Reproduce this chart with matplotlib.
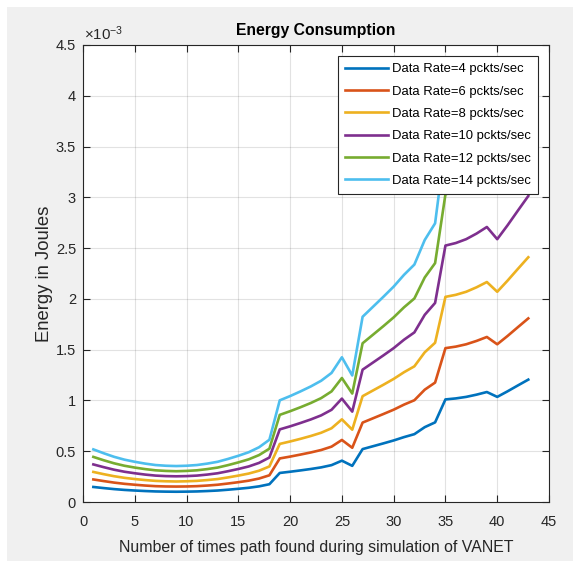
import numpy as np
import matplotlib.pyplot as plt
from matplotlib.patches import Rectangle

plt.rcParams['font.family'] = ['Liberation Sans', 'DejaVu Sans']
plt.rcParams['mathtext.fontset'] = 'custom'
plt.rcParams['mathtext.rm'] = 'Liberation Sans'
plt.rcParams['mathtext.it'] = 'Liberation Sans:italic'

# path index
x = np.arange(1, 44)

# energy values (x 1e-3 J)
e4 = [0.148, 0.137, 0.127, 0.119, 0.113, 0.108, 0.104, 0.102, 0.101, 0.102, 0.104, 0.108, 0.113, 0.121, 0.130,
      0.140, 0.154, 0.175, 0.286, 0.298, 0.311, 0.325, 0.341, 0.363, 0.407, 0.356, 0.521, 0.549, 0.577, 0.606,
      0.639, 0.668, 0.737, 0.784, 1.010, 1.020, 1.035, 1.057, 1.083, 1.035, 1.090, 1.148, 1.205]
e6 = [0.222, 0.206, 0.191, 0.179, 0.170, 0.162, 0.156, 0.153, 0.152, 0.153, 0.156, 0.162, 0.170, 0.182, 0.195,
      0.210, 0.231, 0.263, 0.429, 0.447, 0.467, 0.488, 0.512, 0.545, 0.611, 0.534, 0.782, 0.824, 0.866, 0.909,
      0.959, 1.002, 1.106, 1.176, 1.515, 1.530, 1.553, 1.586, 1.625, 1.553, 1.635, 1.722, 1.808]
e8 = [0.296, 0.274, 0.254, 0.238, 0.226, 0.216, 0.208, 0.204, 0.202, 0.204, 0.208, 0.216, 0.226, 0.242, 0.260,
      0.280, 0.308, 0.350, 0.572, 0.596, 0.622, 0.650, 0.682, 0.726, 0.814, 0.712, 1.042, 1.098, 1.154, 1.212,
      1.278, 1.336, 1.474, 1.568, 2.020, 2.040, 2.070, 2.114, 2.166, 2.070, 2.180, 2.296, 2.410]
e10 = [0.370, 0.343, 0.318, 0.298, 0.283, 0.270, 0.260, 0.255, 0.253, 0.255, 0.260, 0.270, 0.283, 0.303, 0.325,
       0.350, 0.385, 0.438, 0.715, 0.745, 0.778, 0.813, 0.853, 0.908, 1.018, 0.890, 1.303, 1.373, 1.443, 1.515,
       1.598, 1.670, 1.843, 1.960, 2.525, 2.550, 2.588, 2.643, 2.708, 2.588, 2.725, 2.870, 3.013]
e12 = [0.444, 0.411, 0.381, 0.357, 0.339, 0.324, 0.312, 0.306, 0.303, 0.306, 0.312, 0.324, 0.339, 0.363, 0.390,
       0.420, 0.462, 0.525, 0.858, 0.894, 0.933, 0.975, 1.023, 1.089, 1.221, 1.068, 1.563, 1.647, 1.731, 1.818,
       1.917, 2.004, 2.211, 2.352, 3.030, 3.060, 3.105, 3.171, 3.249, 3.105, 3.270, 3.444, 3.615]
e14 = [0.518, 0.480, 0.445, 0.417, 0.396, 0.378, 0.364, 0.357, 0.354, 0.357, 0.364, 0.378, 0.396, 0.424, 0.455,
       0.490, 0.539, 0.613, 1.001, 1.043, 1.089, 1.138, 1.194, 1.271, 1.425, 1.246, 1.824, 1.922, 2.020, 2.121,
       2.237, 2.338, 2.580, 2.744, 3.535, 3.570, 3.623, 3.700, 3.791, 3.623, 3.815, 4.018, 4.218]

series = [e4, e6, e8, e10, e12, e14]
labels = ['Data Rate=4 pckts/sec', 'Data Rate=6 pckts/sec', 'Data Rate=8 pckts/sec',
          'Data Rate=10 pckts/sec', 'Data Rate=12 pckts/sec', 'Data Rate=14 pckts/sec']
colors = ['#0072BD', '#D95319', '#EDB120', '#7E2F8E', '#77AC30', '#4DBEEE']

fig = plt.figure(figsize=(5.73, 5.61), dpi=100, facecolor='white')
# matlab style gray window, thin white strip top and left
fig.patches.append(Rectangle((7 / 573, -0.1), 1.2, 1.1 - 7 / 561, transform=fig.transFigure,
                             facecolor='#F0F0F0', edgecolor='none', zorder=-10))

ax = fig.add_axes([83 / 573, 59 / 561, 466 / 573, 457 / 561])
ax.set_facecolor('white')

for s, lab, c in zip(series, labels, colors):
    ax.plot(x, s, color=c, lw=1.9, label=lab)

ax.set_xlim(0, 45)
ax.set_ylim(0, 4.5)
ax.set_xticks(np.arange(0, 46, 5))
ax.set_yticks(np.arange(0, 4.51, 0.5))
ax.set_yticklabels(['0', '0.5', '1', '1.5', '2', '2.5', '3', '3.5', '4', '4.5'])
ax.grid(True, color='#262626', alpha=0.13, lw=0.8)
ax.tick_params(direction='in', top=True, right=True, length=5, labelsize=10.5,
               colors='#262626', labelcolor='#262626')
ax.tick_params(axis='x', pad=9)
ax.tick_params(axis='y', pad=5)
for sp in ax.spines.values():
    sp.set_color('#262626')
    sp.set_linewidth(0.8)

ax.set_title('Energy Consumption', fontsize=11.3, fontweight='bold', color='black', pad=7)
ax.set_xlabel('Number of times path found during simulation of VANET', fontsize=11.4,
              color='#262626', labelpad=8)
ax.set_ylabel('Energy in Joules', fontsize=13.3, color='#262626')
ax.yaxis.set_label_coords(-0.065, 0.5)
ax.text(0.003, 1.004, r'$\times\mathregular{10^{-3}}$', transform=ax.transAxes, fontsize=10.8,
        color='#262626', ha='left', va='bottom')

leg = ax.legend(loc='upper right', fontsize=9.4, frameon=True, fancybox=False, framealpha=1,
                edgecolor='#262626', handlelength=3.3, labelspacing=0.78, borderaxespad=0.85,
                borderpad=0.55, handletextpad=0.3)
leg.get_frame().set_linewidth(0.8)

fig.savefig('out.png', dpi=100, facecolor=fig.get_facecolor())
